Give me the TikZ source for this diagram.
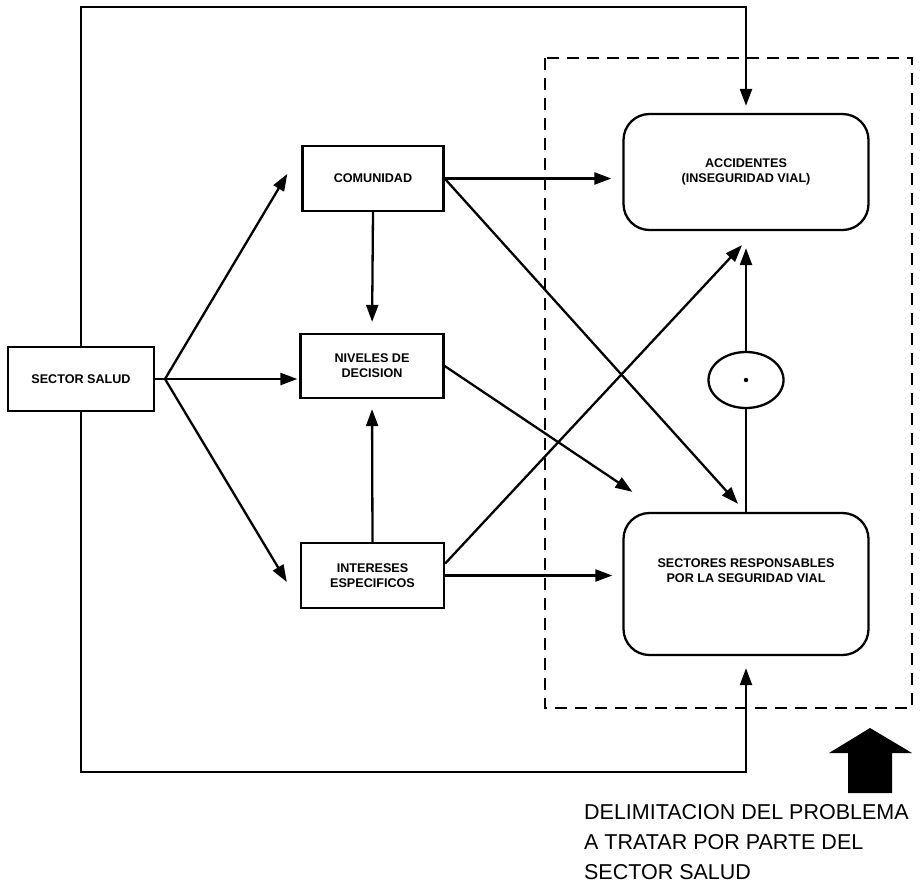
\documentclass[tikz,border=0pt]{standalone}
\usepackage{fontspec}
\setmainfont{Liberation Sans}
\usetikzlibrary{arrows.meta,calc,shapes.geometric}

\begin{document}
\begin{tikzpicture}[x=1pt,y=-1pt,line width=2.3pt,
  lbl/.style={font=\bfseries\fontsize{12.6}{15}\selectfont,align=center},
  sqbox/.style={lbl,draw,rectangle,inner sep=0pt},
  rndbox/.style={lbl,draw,rectangle,rounded corners=26pt,inner sep=0pt,
    minimum width=245pt},
  arr/.style={-{Triangle[length=17pt,width=12pt]}},
  frame/.style={dashed,dash pattern=on 12pt off 8pt,line width=2pt}]

\useasboundingbox (0,0) rectangle (920,884);

% boxes
\node[sqbox,minimum width=146pt,minimum height=64pt] (salud) at (81,379) {SECTOR SALUD};
\node[sqbox,minimum width=141pt,minimum height=65pt] (com) at (373,178.5) {COMUNIDAD};
\node[sqbox,minimum width=143pt,minimum height=64pt] (niv) at (372,366) {NIVELES DE\\DECISION};
\node[sqbox,minimum width=143pt,minimum height=65pt] (int) at (372.5,575.5) {INTERESES\\ESPECIFICOS};
\node[rndbox,minimum height=116pt] (acc) at (746,172) {ACCIDENTES\\(INSEGURIDAD VIAL)};
\node[rndbox,minimum height=142pt,text depth=26pt] (sec) at (746,584) {SECTORES RESPONSABLES\\POR LA SEGURIDAD VIAL};
\node[draw,ellipse,minimum width=75pt,minimum height=56pt,inner sep=0pt] (circ) at (746,380) {};
\fill (circ.center) circle (2.2pt);

% fan out from the health sector
\coordinate (fan) at (165,379);
\draw (salud.east) -- (fan);
\draw[arr] (fan) -- ($(com.north west)+(-14,29)$);
\draw[arr] (fan) -- ($(fan -| niv.west)+(-2,0)$);
\draw[arr] (fan) -- ($(int.west)+(-13,6.5)$);

% links between the middle boxes
\draw[arr,shorten >=11pt] (com.south) -- (niv.north);
\draw[arr,shorten >=10pt] (int.north) -- (niv.south);

% links into the problem area
\draw[arr,shorten >=11pt] (com.east) -- (com.east -| acc.west);
\draw[arr] (com.east) -- ($(sec.north)+(-8,-8)$);
\draw[arr] (niv.east) -- ($(sec.north west)+(10,-20)$);
\draw[arr] ($(int.east)+(0,-12)$) -- ($(acc.south)+(-4,14)$);
\draw[arr,shorten >=10pt] (int.east) -- (int.east -| sec.west);

% chain through the circle
\draw (sec.north) -- (circ.south);
\draw[arr,shorten >=17pt] (circ.north) -- (acc.south);

% outer loop from the health sector
\coordinate (ttop) at (81,7);
\coordinate (bbot) at (81,772);
\draw[arr,shorten >=7pt] (salud.north) -- (ttop) -| (acc.north);
\draw[arr,shorten >=12pt] (salud.south) -- (bbot) -| (sec.south);

% delimited problem area
\draw[frame] (545,58) rectangle (912,708);

% block arrow and caption
\fill (870,728) -- (912,753) -- (892,753) -- (892,793) -- (848,793)
  -- (848,753) -- (829,753) -- cycle;
\node[anchor=north west,align=left,inner sep=0pt,
  font=\fontsize{21.5}{30}\selectfont] (cap) at (583,803)
  {DELIMITACION DEL PROBLEMA\\A TRATAR POR PARTE DEL\\SECTOR SALUD};
\end{tikzpicture}
\end{document}
